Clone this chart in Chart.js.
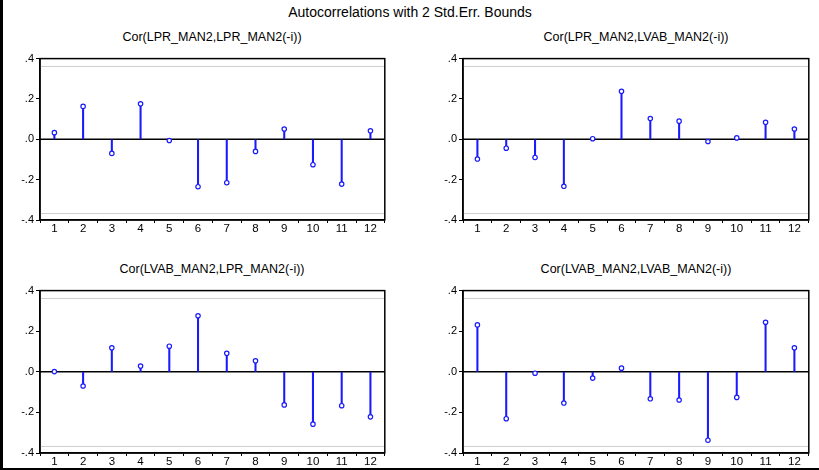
<!DOCTYPE html>
<html lang="en">
<head>
<meta charset="UTF-8">
<title>Autocorrelations</title>
<script src="https://cdn.jsdelivr.net/npm/chart.js"></script>
<style>
  body { margin: 0; width: 819px; height: 470px; background: #fff; position: relative; overflow: hidden;
         font-family: "Liberation Sans", Arial, sans-serif; }
  canvas { position: absolute; }
  .t { position: absolute; color: #000; white-space: nowrap; transform: translateX(-50%); }
  #edgeL { position: absolute; left: 0; top: 0; width: 3px; height: 470px; background: #000; z-index: 5; }
  #edgeB { position: absolute; left: 0; top: 468px; width: 819px; height: 2px; background: #000; z-index: 5; }
</style>
</head>
<body>
<div class="t" style="left:410px;top:4px;font-size:14px">Autocorrelations with 2 Std.Err. Bounds</div>
<div class="t" style="left:212px;top:30px;font-size:12.5px">Cor(LPR_MAN2,LPR_MAN2(-i))</div>
<div class="t" style="left:636px;top:30px;font-size:12.5px">Cor(LPR_MAN2,LVAB_MAN2(-i))</div>
<div class="t" style="left:212px;top:262px;font-size:12.5px">Cor(LVAB_MAN2,LPR_MAN2(-i))</div>
<div class="t" style="left:636px;top:262px;font-size:12.5px">Cor(LVAB_MAN2,LVAB_MAN2(-i))</div>

<canvas id="c1" width="385" height="190" style="left:5px;top:50px"></canvas>
<canvas id="c2" width="386" height="190" style="left:428px;top:50px"></canvas>
<canvas id="c3" width="385" height="191" style="left:5px;top:282px"></canvas>
<canvas id="c4" width="386" height="191" style="left:428px;top:282px"></canvas>
<div id="edgeL"></div>
<div id="edgeB"></div>

<script>
// lags
const lags = ['1','2','3','4','5','6','7','8','9','10','11','12'];

// autocorrelation values
const lprLpr   = [0.033, 0.163, -0.070, 0.176, -0.006, -0.235, -0.215, -0.060, 0.051, -0.126, -0.222, 0.042];
const lprLvab  = [-0.098, -0.044, -0.090, -0.233, 0.003, 0.238, 0.103, 0.090, -0.011, 0.007, 0.084, 0.051];
const lvabLpr  = [0.001, -0.070, 0.118, 0.028, 0.126, 0.276, 0.091, 0.054, -0.163, -0.258, -0.167, -0.222];
const lvabLvab = [0.231, -0.231, -0.007, -0.154, -0.031, 0.018, -0.133, -0.139, -0.337, -0.126, 0.244, 0.118];

// 2 std.err. bounds
const bound = 0.365;
const yTicks = [-0.4, -0.2, 0, 0.2, 0.4];

// zero line, bounds and box around the plot
const refLines = {
  id: 'refLines',
  beforeDatasetsDraw(chart) {
    const ctx = chart.ctx, a = chart.chartArea, y = chart.scales.y;
    ctx.save();
    ctx.strokeStyle = '#cfcfcf';
    ctx.lineWidth = 1;
    [bound, -bound].forEach(v => {
      const py = Math.round(y.getPixelForValue(v)) + 0.5;
      ctx.beginPath(); ctx.moveTo(a.left, py); ctx.lineTo(a.right, py); ctx.stroke();
    });
    ctx.strokeStyle = '#000';
    ctx.lineWidth = 1.5;
    const p0 = y.getPixelForValue(0);
    ctx.beginPath(); ctx.moveTo(a.left, p0); ctx.lineTo(a.right, p0); ctx.stroke();
    ctx.restore();
  },
  afterDraw(chart) {
    const ctx = chart.ctx, a = chart.chartArea;
    ctx.save();
    ctx.strokeStyle = '#000';
    ctx.lineWidth = 1.5;
    ctx.strokeRect(a.left, a.top, a.right - a.left, a.bottom - a.top);
    ctx.restore();
  }
};

function fmt(v) {
  if (Math.abs(v) < 1e-9) return '.0';
  const s = v.toFixed(1);
  return s.replace('0.', '.');
}

function makeChart(id, values) {
  new Chart(document.getElementById(id), {
    type: 'bar',
    data: {
      labels: lags,
      datasets: [
        {
          type: 'line',
          data: values,
          showLine: false,
          pointRadius: 2.2,
          pointBorderWidth: 1.2,
          pointBackgroundColor: '#ffffff',
          pointBorderColor: '#1a1aff',
          order: 0
        },
        {
          data: values,
          backgroundColor: '#1a1aff',
          barThickness: 1.4,
          order: 1
        }
      ]
    },
    options: {
      responsive: false,
      animation: false,
      devicePixelRatio: 1,
      layout: { padding: { top: 7, right: 5, left: 0, bottom: 0 } },
      plugins: { legend: { display: false }, tooltip: { enabled: false } },
      scales: {
        x: {
          offset: true,
          grid: { display: true, offset: true, drawOnChartArea: false, tickLength: 3, color: '#000' },
          border: { display: true, color: '#000', width: 1.5 },
          ticks: { color: '#000', font: { family: 'Liberation Sans', size: 11.5 }, padding: -1, maxRotation: 0, autoSkip: false },
          afterFit(s) { s.height = 20; }
        },
        y: {
          min: -0.4,
          max: 0.4,
          afterBuildTicks(s) { s.ticks = yTicks.map(v => ({ value: v })); },
          grid: { display: true, drawOnChartArea: false, tickLength: 4, color: '#000' },
          border: { display: true, color: '#000', width: 1.5 },
          ticks: { color: '#000', font: { family: 'Liberation Sans', size: 11 }, padding: 2, callback: v => fmt(v) },
          afterFit(s) { s.width = 35; }
        }
      }
    },
    plugins: [refLines]
  });
}

makeChart('c1', lprLpr);
makeChart('c2', lprLvab);
makeChart('c3', lvabLpr);
makeChart('c4', lvabLvab);
</script>
</body>
</html>
